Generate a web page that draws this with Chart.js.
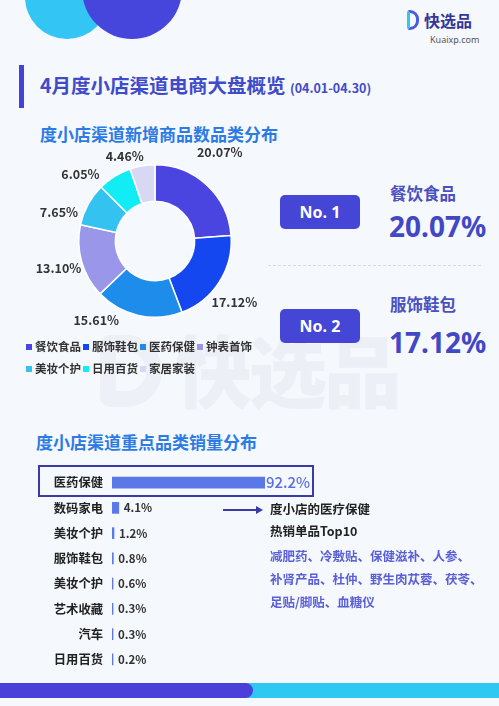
<!DOCTYPE html>
<html>
<head>
<meta charset="utf-8">
<script src="https://cdn.jsdelivr.net/npm/chart.js@4.4.0/dist/chart.umd.min.js"></script>
<style>
  html, body { margin: 0; padding: 0; }
  body { width: 499px; height: 706px; background: #F5F8FC; position: relative; overflow: hidden;
         font-family: "Noto Sans CJK SC", "Noto Sans", sans-serif; }
  .abs { position: absolute; white-space: nowrap; }
  .circle { position: absolute; border-radius: 50%; }
  .tag { position: absolute; background: #4545D6; color: #fff; font-weight: 700; font-size: 16px;
         border-radius: 5px; width: 80px; height: 34px; line-height: 34px; text-align: center; font-family: "Noto Sans", sans-serif; }
  .legend { position: absolute; left: 26px; width: 240px; font-size: 11.5px; font-weight: 700; color: #333; }
  .legend span.item { display: inline-block; margin-right: 2px; }
  .legend i { display: inline-block; width: 6px; height: 6px; margin-right: 3px; vertical-align: 1px; }
</style>
</head>
<body>
<div class="circle" style="left:25px;top:-45px;width:84px;height:84px;background:#33C6F4;"></div>
<div class="circle" style="left:82px;top:-61px;width:100px;height:100px;background:#4646DC;"></div>

<!-- logo -->
<div class="abs" style="left:407px;top:10px;width:12px;height:20px;border-radius:3px 9px 9px 3px;border:3px solid #4A5BE0;box-sizing:border-box;border-left-color:#2EC8F2;"></div>
<div class="abs" style="left:424px;top:8px;font-size:16px;font-weight:700;color:#35359A;line-height:24px;">快选品</div>
<div class="abs" style="left:430px;top:33px;font-size:9px;color:#555;line-height:14px;font-family:'Noto Sans',sans-serif;">Kuaixp.com</div>

<!-- watermark -->
<div class="abs" style="left:100px;top:335px;width:62px;height:72px;border:16px solid #EDF1F7;border-radius:10px 36px 36px 10px;box-sizing:border-box;"></div>
<div class="abs" style="left:174px;top:318px;font-size:78px;font-weight:900;color:#ECF0F6;line-height:100px;letter-spacing:-3px;">快选品</div>

<!-- title -->
<div class="abs" style="left:19px;top:65px;width:5px;height:43px;background:#4343D8;"></div>
<div class="abs" style="left:40px;top:71px;font-size:19.5px;font-weight:700;color:#3F4BC8;line-height:28px;">4月度小店渠道电商大盘概览 <span style="font-size:12.5px;">(04.01-04.30)</span></div>

<div class="abs" style="left:40px;top:122px;font-size:17px;font-weight:700;color:#2C7BE5;line-height:24px;">度小店渠道新增商品数品类分布</div>

<canvas id="donut" class="abs" width="270" height="202" style="left:20px;top:140px;"></canvas>
<div class="legend" id="legend" style="top:335px;line-height:22px;"></div>

<!-- right panel -->
<div class="tag" style="left:280px;top:195px;">No. 1</div>
<div class="abs" id="name1" style="left:390px;top:181px;font-size:16.5px;font-weight:700;color:#4B50C0;line-height:24px;"></div>
<div class="abs" id="val1" style="left:389px;top:207px;font-size:28px;font-weight:700;color:#4247C4;line-height:38px;font-family:'Noto Sans',sans-serif;"></div>
<div class="abs" style="left:268px;top:265px;width:213px;border-top:1px dashed #D6DAE3;"></div>
<div class="tag" style="left:280px;top:309px;">No. 2</div>
<div class="abs" id="name2" style="left:390px;top:292px;font-size:16.5px;font-weight:700;color:#4B50C0;line-height:24px;"></div>
<div class="abs" id="val2" style="left:389px;top:323px;font-size:28px;font-weight:700;color:#4247C4;line-height:38px;font-family:'Noto Sans',sans-serif;"></div>

<!-- section 2 -->
<div class="abs" style="left:36px;top:430px;font-size:17px;font-weight:700;color:#2C7BE5;line-height:24px;">度小店渠道重点品类销量分布</div>
<div class="abs" style="left:38px;top:465px;width:276px;height:32px;border:2px solid #3B3BA8;box-sizing:border-box;"></div>
<canvas id="bars" class="abs" width="330" height="202" style="left:0;top:470px;"></canvas>

<div class="abs" style="left:223px;top:509px;width:34px;height:1.5px;background:#3B3BA8;"></div>
<div class="abs" style="left:256px;top:506px;width:0;height:0;border-top:4px solid transparent;border-bottom:4px solid transparent;border-left:7px solid #3B3BA8;"></div>
<div class="abs" style="left:270px;top:499px;font-size:12.5px;font-weight:700;color:#222;line-height:20px;">度小店的医疗保健</div>
<div class="abs" style="left:270px;top:521px;font-size:12.5px;font-weight:700;color:#222;line-height:20px;">热销单品Top10</div>
<div class="abs" style="left:270px;top:544px;font-size:12.5px;font-weight:700;color:#5A5FD8;line-height:23px;">减肥药、冷敷贴、保健滋补、人参、<br>补肾产品、杜仲、野生肉苁蓉、茯苓、<br>足贴/脚贴、血糖仪</div>

<!-- bottom bar -->
<div class="abs" style="left:0;top:683px;width:499px;height:15px;background:#2EC8F2;"></div>
<div class="abs" style="left:-10px;top:683px;width:263px;height:15px;background:#4A3FD8;border-radius:0 8px 8px 0;"></div>

<script>
var shareLabels = ["餐饮食品", "服饰鞋包", "医药保健", "钟表首饰", "美妆个护", "日用百货", "家居家装"];
var shareValues = [20.07, 17.12, 15.61, 13.10, 7.65, 6.05, 4.46];
var shareColors = ["#4A44E0", "#1447F0", "#1E8CEB", "#9A96EA", "#34C3F0", "#12ECF5", "#D8D8F4"];

var salesLabels = ["医药保健", "数码家电", "美妆个护", "服饰鞋包", "美妆个护", "艺术收藏", "汽车", "日用百货"];
var salesValues = [92.2, 4.1, 1.2, 0.8, 0.6, 0.3, 0.3, 0.2];

var FONT = '"Noto Sans CJK SC", "Noto Sans", sans-serif';

// legend + top-2 panel
var legendHtml = "";
for (var i = 0; i < shareLabels.length; i++) {
	if (i == 4) legendHtml += "<br>";
	legendHtml += '<span class="item"><i style="background:' + shareColors[i] + '"></i>' + shareLabels[i] + "</span>";
}
document.getElementById("legend").innerHTML = legendHtml;
document.getElementById("name1").textContent = shareLabels[0];
document.getElementById("val1").textContent = shareValues[0].toFixed(2) + "%";
document.getElementById("name2").textContent = shareLabels[1];
document.getElementById("val2").textContent = shareValues[1].toFixed(2) + "%";

// nudges (degrees / px) so outside labels don't crowd, like the original layout
var labelShift = [-7, 5, 24, 0, -12, -16, -10];
var labelGap = [34, 24, 22, 24, 24, 24, 14];

var donutLabels = {
	id: "donutLabels",
	afterDatasetsDraw: function (chart) {
		var ctx = chart.ctx;
		var arcs = chart.getDatasetMeta(0).data;
		ctx.save();
		ctx.font = "bold 12.5px " + FONT;
		ctx.fillStyle = "#333";
		ctx.textAlign = "center";
		ctx.textBaseline = "middle";
		arcs.forEach(function (arc, i) {
			var mid = (arc.startAngle + arc.endAngle) / 2 + labelShift[i] * Math.PI / 180;
			var r = arc.outerRadius + labelGap[i];
			var x = arc.x + Math.cos(mid) * r;
			var y = arc.y + Math.sin(mid) * r;
			ctx.fillText(shareValues[i].toFixed(2) + "%", x, y);
		});
		ctx.restore();
	}
};

new Chart(document.getElementById("donut").getContext("2d"), {
	type: "doughnut",
	data: {
		labels: shareLabels,
		datasets: [{
			data: shareValues,
			backgroundColor: shareColors,
			borderColor: "#ffffff",
			borderWidth: 1.5
		}]
	},
	options: {
		responsive: false,
		animation: false,
		cutout: "52%",
		layout: { padding: { left: 58, right: 58, top: 24, bottom: 24 } },
		plugins: { legend: { display: false }, tooltip: { enabled: false } }
	},
	plugins: [donutLabels]
});

var barLabels = {
	id: "barLabels",
	afterDatasetsDraw: function (chart) {
		var ctx = chart.ctx;
		var bars = chart.getDatasetMeta(0).data;
		ctx.save();
		ctx.textBaseline = "middle";
		ctx.textAlign = "left";
		bars.forEach(function (bar, i) {
			if (i == 0) {
				ctx.font = "500 15px " + FONT;
				ctx.fillStyle = "#5A70E0";
				ctx.fillText(salesValues[i] + "%", bar.x + 1, bar.y);
			} else {
				ctx.font = "bold 11.5px " + FONT;
				ctx.fillStyle = "#333";
				ctx.fillText(salesValues[i] + "%", bar.x + 5, bar.y);
			}
		});
		ctx.restore();
	}
};

new Chart(document.getElementById("bars").getContext("2d"), {
	type: "bar",
	data: {
		labels: salesLabels,
		datasets: [{
			data: salesValues,
			backgroundColor: "#5A78E8",
			barThickness: 11,
			minBarLength: 1
		}]
	},
	options: {
		indexAxis: "y",
		responsive: false,
		animation: false,
		layout: { padding: { left: 0, right: 65, top: 0, bottom: 0 } },
		scales: {
			x: { display: false, min: 0, max: 92.2 },
			y: {
				grid: { display: false, drawTicks: false },
				border: { display: false },
				ticks: { color: "#222", padding: 9, font: { family: FONT, size: 12.3, weight: "bold" } },
				afterFit: function (scale) {
					scale.width = 112;
					scale.paddingTop = 0;
					scale.paddingBottom = 0;
				}
			}
		},
		plugins: { legend: { display: false }, tooltip: { enabled: false } }
	},
	plugins: [barLabels]
});
</script>
</body>
</html>
